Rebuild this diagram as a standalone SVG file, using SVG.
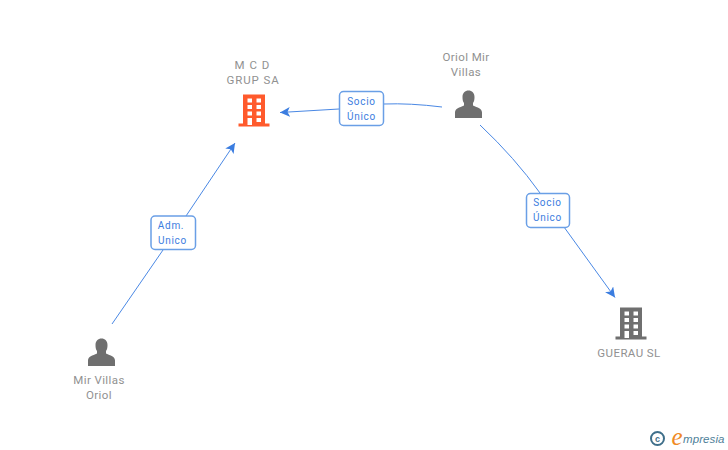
<svg xmlns="http://www.w3.org/2000/svg" width="728" height="450" viewBox="0 0 728 450">
<style>
.lbl{font-family:Roboto,"Liberation Sans",sans-serif;font-size:11.5px;fill:#919191;text-anchor:middle;letter-spacing:.4px}
.tag{font-family:Roboto,"Liberation Sans",sans-serif;font-size:10px;fill:#3b7de0;text-anchor:middle;letter-spacing:.7px}
.box{fill:#fff;stroke:#6a9fe6;stroke-width:1.5}
.edge{fill:none;stroke:#4a88e4;stroke-width:1}
</style>
<defs>
<marker id="arrow" markerUnits="userSpaceOnUse" markerWidth="12" markerHeight="12" refX="10" refY="5" orient="auto"><path d="M0 0L10 5L0 10L2.500 5Z" fill="#3b7de0"/></marker>
<g id="person"><path d="M-13.500 13.500V8C-13.500 4-9 3-4.500 1V-1.500C-5.800-3-6-5.500-6-7.500C-6-11.500-3.500-14 0-14C3.500-14 6-11.500 6-7.500C6-5.500 5.800-3 4.500-1.500V1C9 3 13.500 4 13.500 8V13.500Z" fill="#6f6f6f"/></g>
<g id="bldg"><path fill-rule="evenodd" d="M-11-16H11V13H15.500V16H-15.500V13H-11ZM-6.500-12V-8H-2V-12ZM2.500-12V-8H7V-12ZM-6.500-5.500V-1.500H-2V-5.500ZM2.500-5.500V-1.500H7V-5.500ZM-6.500 1V5H-2V1ZM2.500 1V5H7V1ZM-6.500 7.500V14.500H-2V7.500ZM2.500 7.500V11.500H7V7.500Z"/></g>
</defs>
<g id="connectors">
<path class="edge" d="M442 107Q410 103 384 104"/>
<path class="edge" d="M339 109L280 112.500" marker-end="url(#arrow)"/>
<path class="edge" d="M480 125Q515 158 540 193"/>
<path class="edge" d="M564 227L615 297.500" marker-end="url(#arrow)"/>
<path class="edge" d="M112 324L163 250"/>
<path class="edge" d="M186 216L235 143" marker-end="url(#arrow)"/>
</g>
<g id="node-mcd">
<text class="lbl" x="252.500" y="69" style="letter-spacing:1px">M C D</text><text class="lbl" x="253" y="84" style="letter-spacing:.9px">GRUP SA</text>
<use href="#bldg" x="254" y="110.500" fill="#ff5a2c"/>
</g>
<g id="node-oriol">
<text class="lbl" x="466" y="61">Oriol Mir</text><text class="lbl" x="466" y="76">Villas</text>
<use href="#person" x="468.500" y="104.500"/>
</g>
<g id="node-mir">
<text class="lbl" x="99" y="384">Mir Villas</text><text class="lbl" x="99" y="399">Oriol</text>
<use href="#person" x="101.500" y="352.500"/>
</g>
<g id="node-guerau">
<use href="#bldg" x="631" y="323.500" fill="#6f6f6f"/>
<text class="lbl" x="629" y="357">GUERAU SL</text>
</g>
<g id="tag-socio1"><rect class="box" x="339.500" y="91.500" width="44" height="34" rx="4"/><text class="tag" x="361.500" y="105">Socio</text><text class="tag" x="361.500" y="120">Único</text></g>
<g id="tag-socio2"><rect class="box" x="526.500" y="193.500" width="43" height="34" rx="4"/><text class="tag" x="547.500" y="206">Socio</text><text class="tag" x="547.500" y="221">Único</text></g>
<g id="tag-adm"><rect class="box" x="151" y="216" width="44.500" height="33.500" rx="4"/><text class="tag" x="171" y="229">Adm.</text><text class="tag" x="172.500" y="244">Unico</text></g>
<g id="logo">
<circle cx="657.500" cy="438.500" r="6.500" fill="none" stroke="#3f6f8a" stroke-width="2"/>
<text x="657.500" y="441.500" font-family="Liberation Sans,sans-serif" font-size="9" font-weight="700" fill="#3f6f8a" text-anchor="middle">c</text>
<text x="677" y="445" font-family="Liberation Serif,serif" font-size="25" font-style="italic" fill="#f08a24" text-anchor="middle">e</text>
<text x="683" y="443" font-family="Liberation Sans,sans-serif" font-size="11.500" font-style="italic" fill="#4f7f99" letter-spacing=".1">mpresia</text>
</g>
</svg>
